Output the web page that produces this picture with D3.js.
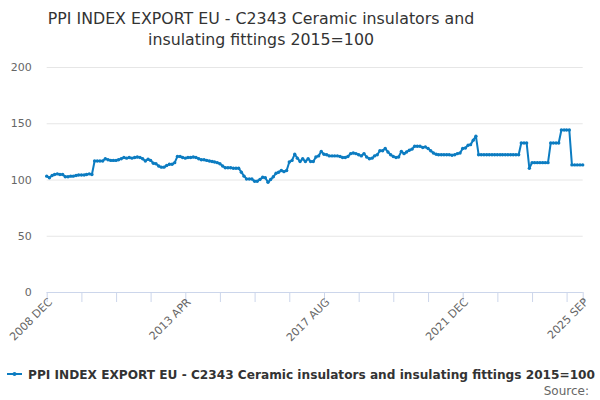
<!DOCTYPE html>
<html>
<head>
<meta charset="utf-8">
<script src="https://cdn.jsdelivr.net/npm/d3@7"></script>
<style>
  body { margin: 0; background: #fff; }
  svg { font-family: "DejaVu Sans", Verdana, sans-serif; }
</style>
</head>
<body>
<script>
// monthly index values, 2008 DEC .. 2025 SEP
const startYear = 2008
const startMonth = 11 // december
const values = [
  103, 101.5, 103.5, 104.5, 105, 104.5, 104.5, 102.5, 102.5, 103,
  103, 103.5, 104, 104, 104, 104.5, 105, 104.5, 116.5, 116.5,
  116.5, 116.5, 118.5, 117.5, 117, 117, 117, 117.5, 118.5, 119.5,
  119, 119.5, 119, 119.5, 120, 119.5, 118.5, 116.5, 118, 117,
  114.5, 114, 112, 111, 111, 112.5, 113.5, 113.5, 115, 120.5,
  120.5, 119.5, 119, 119.5, 119.5, 120, 119.5, 118.5, 117.5, 117.5,
  117, 116.5, 116, 115.5, 115, 114, 112, 110.5, 110.5, 110.5,
  110, 110, 110, 106.5, 103, 100.5, 100.5, 100.5, 98.5, 98.5,
  100, 102, 101.5, 97.5, 100, 102.5, 105.5, 106.5, 108, 107,
  108, 115.5, 117, 122.5, 119, 116, 118.5, 116, 118.5, 116,
  116, 120, 121, 125, 122.5, 122, 121, 121, 121, 121,
  120.5, 119.5, 119.5, 120.5, 123, 123.5, 123, 122, 121, 123,
  120, 118.5, 119, 121, 122, 125.5, 125.5, 127.5, 124.5, 122,
  120.5, 119.5, 120, 125, 123, 124.5, 126, 127, 129.5, 129.5,
  129.5, 128.5, 129, 127.5, 125.5, 123.5, 122.5, 122, 122, 122,
  122, 122, 121.5, 122, 123, 123.5, 127.5, 128, 130.5, 131,
  135, 138.5, 122, 122, 122, 122, 122, 122, 122, 122,
  122, 122, 122, 122, 122, 122, 122, 122, 132.5, 132.5,
  132.5, 110, 115, 115, 115, 115, 115, 115, 115, 132.5,
  132.5, 132.5, 132.5, 144, 144, 144, 144, 113, 113, 113,
  113, 113
]
const yTicks = [0, 50, 100, 150, 200]
const monthNames = ["JAN","FEB","MAR","APR","MAY","JUN","JUL","AUG","SEP","OCT","NOV","DEC"]
const seriesName = "PPI INDEX EXPORT EU - C2343 Ceramic insulators and insulating fittings 2015=100"
const titleLines = ["PPI INDEX EXPORT EU - C2343 Ceramic insulators and", "insulating fittings 2015=100"]

const w = 600
const h = 400
const pLeft = 46.7, pRight = 582.7, pTop = 67, pBottom = 292

const dates = values.map((d, i) => new Date(startYear, startMonth + i, 1))

const xScale = d3.scaleTime()
                 .domain([dates[0], dates[dates.length - 1]])
                 .range([pLeft, pRight])
const yScale = d3.scaleLinear()
                 .domain([0, 200])
                 .range([pBottom, pTop])

const svg = d3.select("body")
              .append("svg")
              .attr("width", w)
              .attr("height", h)

// title
svg.append("text")
   .attr("text-anchor", "middle")
   .attr("fill", "#333")
   .style("font-size", "15.8px")
   .selectAll("tspan")
   .data(titleLines)
   .enter()
   .append("tspan")
   .attr("x", 261)
   .attr("y", (d, i) => 24 + i * 21)
   .text(d => d)

// grid + y labels
const yAxis = d3.axisLeft(yScale)
                .tickValues(yTicks)
                .tickSize(-(pRight - pLeft))
                .tickPadding(15)
const gy = svg.append("g")
              .attr("transform", "translate(" + pLeft + ",0)")
              .call(yAxis)
gy.select(".domain").remove()
gy.selectAll(".tick line").attr("stroke", "#e6e6e6")
gy.selectAll(".tick text")
  .attr("fill", "#666")
  .style("font-size", "11px")
  .style("font-family", "DejaVu Sans, sans-serif")

// x axis: tick every 13 months, label every 4th tick
const tickDates = dates.filter((d, i) => i % 13 === 0 || i === dates.length - 1)
const labelDates = dates.filter((d, i) => i % 52 === 0 || i === dates.length - 1)
const xAxis = d3.axisBottom(xScale)
                .tickValues(tickDates)
                .tickSize(10)
                .tickFormat(d => labelDates.some(l => +l === +d) ? d.getFullYear() + " " + monthNames[d.getMonth()] : "")
const gx = svg.append("g")
              .attr("transform", "translate(0," + pBottom + ")")
              .call(xAxis)
gx.select(".domain").attr("stroke", "#ccd6eb").attr("d", "M" + pLeft + ",0.5H" + pRight)
gx.selectAll(".tick line").attr("stroke", "#ccd6eb")
gx.selectAll(".tick text")
  .attr("fill", "#666")
  .style("font-size", "11px")
  .style("font-family", "DejaVu Sans, sans-serif")
  .attr("text-anchor", "end")
  .attr("transform", "translate(3,8) rotate(-45)")
  .attr("dy", "0.35em")
  .attr("y", 0)

// series
const line = d3.line()
               .x((d, i) => xScale(dates[i]))
               .y(d => yScale(d))
svg.append("path")
   .datum(values)
   .attr("fill", "none")
   .attr("stroke", "#0c7cc1")
   .attr("stroke-width", 2)
   .attr("stroke-linejoin", "round")
   .attr("d", line)
svg.append("g")
   .selectAll("circle")
   .data(values)
   .enter()
   .append("circle")
   .attr("cx", (d, i) => xScale(dates[i]))
   .attr("cy", d => yScale(d))
   .attr("r", 1.7)
   .attr("fill", "#0c7cc1")

// legend
svg.append("line")
   .attr("x1", 7).attr("x2", 22)
   .attr("y1", 374).attr("y2", 374)
   .attr("stroke", "#0c7cc1")
   .attr("stroke-width", 2)
svg.append("circle")
   .attr("cx", 14.5).attr("cy", 374).attr("r", 2)
   .attr("fill", "#0c7cc1")
svg.append("text")
   .attr("x", 28)
   .attr("y", 378.5)
   .attr("fill", "#333")
   .style("font-size", "12px")
   .style("font-weight", "bold")
   .attr("textLength", 567)
   .attr("lengthAdjust", "spacingAndGlyphs")
   .text(seriesName)
svg.append("text")
   .attr("x", 589)
   .attr("y", 395)
   .attr("text-anchor", "end")
   .attr("fill", "#666")
   .style("font-size", "12px")
   .text("Source:")
</script>
</body>
</html>
